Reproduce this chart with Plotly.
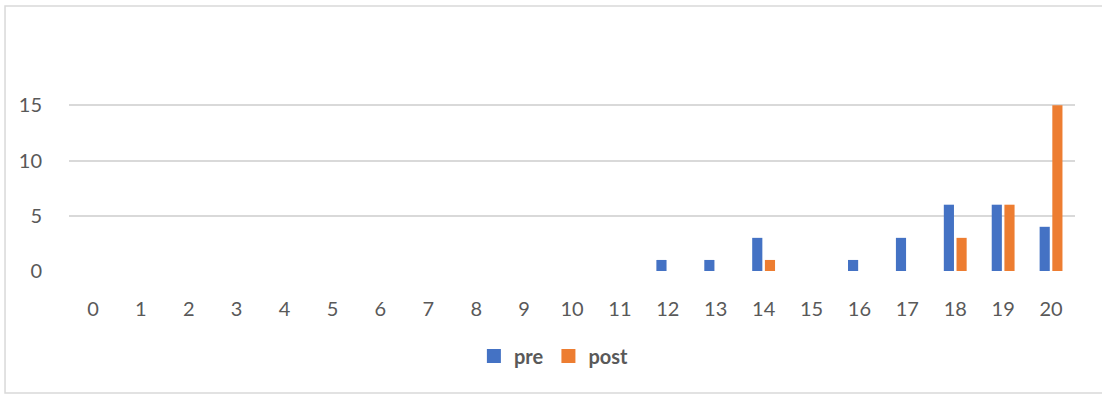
import plotly.graph_objects as go

# Score categories and counts per group
scores = [str(i) for i in range(21)]
pre_counts = [0, 0, 0, 0, 0, 0, 0, 0, 0, 0, 0, 0, 1, 1, 3, 0, 1, 3, 6, 6, 4]
post_counts = [0, 0, 0, 0, 0, 0, 0, 0, 0, 0, 0, 0, 0, 0, 1, 0, 0, 0, 3, 6, 15]
y_ticks = [0, 5, 10, 15]

BLUE = "#4472C4"
ORANGE = "#ED7D31"
TEXT = "#595959"
GRID = "#D9D9D9"
FONT = "Lato, 'Open Sans', sans-serif"

fig = go.Figure()
fig.add_trace(go.Bar(x=scores, y=pre_counts, name="pre", marker_color=BLUE,
                     marker_line_width=0, showlegend=False))
fig.add_trace(go.Bar(x=scores, y=post_counts, name="post", marker_color=ORANGE,
                     marker_line_width=0, showlegend=False))

# Legend entries with square swatches
for name, color in (("pre", BLUE), ("post", ORANGE)):
    fig.add_trace(go.Scatter(x=[None], y=[None], mode="markers", name=name,
                             marker=dict(symbol="square", size=14, color=color),
                             showlegend=True))

fig.update_layout(
    width=1102, height=394,
    margin=dict(l=69, r=27, t=50, b=123),
    paper_bgcolor="white", plot_bgcolor="white",
    barmode="group", bargap=0.47, bargroupgap=0.2,
    font=dict(family=FONT, size=20, color=TEXT),
    showlegend=True,
    legend=dict(orientation="h", x=0.482, xanchor="center", y=-0.385,
                yanchor="middle", font=dict(size=20, color=TEXT, weight="bold"),
                traceorder="normal", itemwidth=30, tracegroupgap=0),
    xaxis=dict(type="category", showgrid=False, zeroline=False,
               showline=False, ticks="outside", ticklen=20,
               tickcolor="rgba(0,0,0,0)", tickfont=dict(size=20, color=TEXT)),
    yaxis=dict(range=[0, 20], tickvals=y_ticks, showgrid=True, gridcolor=GRID,
               gridwidth=1.5, zeroline=False, showline=False,
               ticks="outside", ticklen=22, tickcolor="rgba(0,0,0,0)",
               tickfont=dict(size=20, color=TEXT)),
)

# Chart-area frame
fig.add_shape(type="rect", xref="paper", yref="paper",
              x0=-0.0636, x1=1.05, y0=-0.552, y1=1.199,
              line=dict(color=GRID, width=1.5), fillcolor="rgba(0,0,0,0)",
              layer="below")

fig.write_html("out.html")
